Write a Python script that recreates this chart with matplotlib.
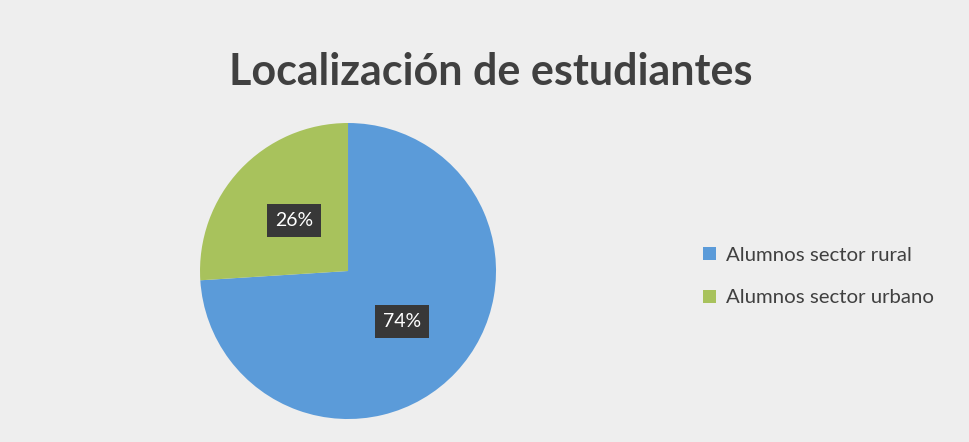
import numpy as np
import matplotlib.pyplot as plt

categories = ["Alumnos sector rural", "Alumnos sector urbano"]
values = [74, 26]
colors = ["#5b9bd9", "#a8c25c"]
title = "Localización de estudiantes"

plt.rcParams['font.family'] = ['Lato', 'DejaVu Sans']

fig = plt.figure(figsize=(9.69, 4.42), dpi=100)
fig.patch.set_facecolor("#eeeeee")

# pie axes: center ~ (348, 271) px, radius ~148 px
ax = fig.add_axes([0.2064, 0.052, 0.3055, 0.6697])
wedges, texts, autotexts = ax.pie(values, colors=colors, startangle=90, counterclock=False,
                                  autopct=lambda p: "{:.0f}%".format(p), pctdistance=0.5,
                                  wedgeprops=dict(linewidth=0))
for t in autotexts:
  t.set_color("white")
  t.set_fontsize(14)
  t.set_bbox(dict(boxstyle="square,pad=0.4", facecolor="#383838", edgecolor="none"))
ax.set_xlim(-1, 1)
ax.set_ylim(-1, 1)
ax.set_aspect("equal")
ax.axis("off")

fig.text(0.506, 0.838, title, ha="center", va="center", fontsize=31, fontweight="bold", color="#404040")

leg = fig.legend(wedges, categories, loc="center left", bbox_to_anchor=(0.707, 0.374),
                 frameon=False, fontsize=14.7, handlelength=0.6, handleheight=0.6,
                 handletextpad=0.5, labelspacing=1.25)
for t in leg.get_texts():
  t.set_color("#404040")

fig.savefig("out.png", dpi=100, facecolor=fig.get_facecolor())
